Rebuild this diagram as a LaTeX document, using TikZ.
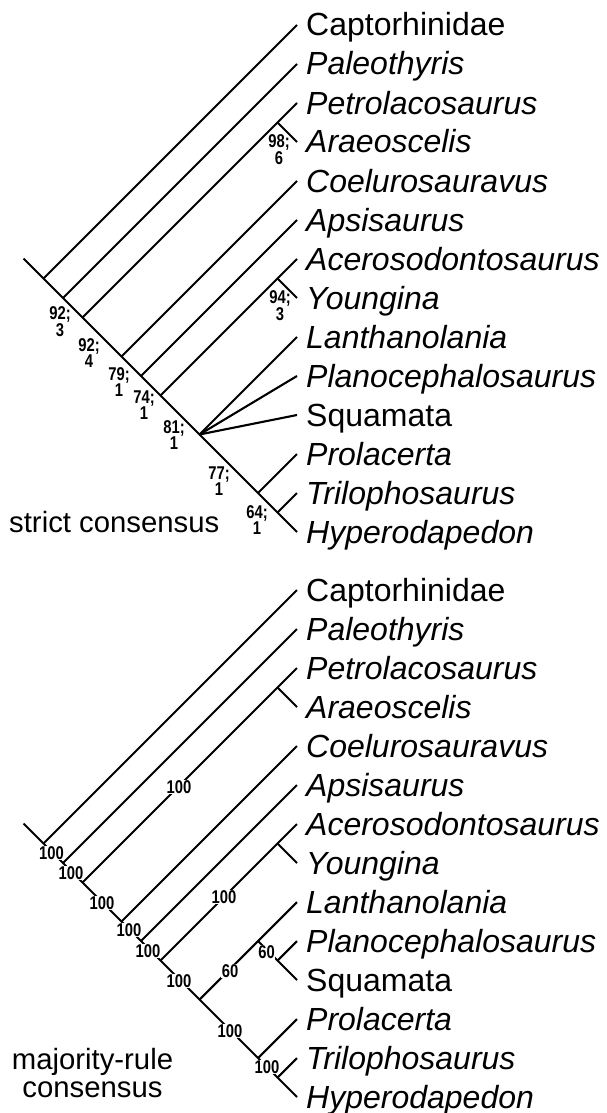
\documentclass[tikz,border=0pt]{standalone}
\usepackage{fontspec}
\setmainfont{Liberation Sans}
\newfontfamily\lblfont{Liberation Sans}[FakeStretch=0.8]
\begin{document}
\begin{tikzpicture}[x=1pt,y=-1pt,
  br/.style={line width=2.1pt},
  taxon/.style={anchor=base west, inner sep=0pt},
  note/.style={anchor=base west, inner sep=0pt, font=\fontsize{29.3}{29.3}\selectfont},
  scoreA/.style={align=center, inner sep=0pt, font=\lblfont\bfseries\fontsize{18.5}{14}\selectfont},
  scoreB/.style={fill=white, inner sep=0.6pt, font=\lblfont\bfseries\fontsize{18.5}{18.5}\selectfont}]
\path[use as bounding box, fill=white] (0,0) rectangle (607,1113);

\foreach \p/\o in {t/0,b/565}{
  \foreach \k/\name/\sh in {1/Captorhinidae/n, 2/Paleothyris/it, 3/Petrolacosaurus/it,
      4/Araeoscelis/it, 5/Coelurosauravus/it, 6/Apsisaurus/it, 7/Acerosodontosaurus/it,
      8/Youngina/it, 9/Lanthanolania/it, 10/Planocephalosaurus/it, 11/Squamata/n,
      12/Prolacerta/it, 13/Trilophosaurus/it, 14/Hyperodapedon/it}{
    \coordinate (\p-tip\k) at (297,{25+39*(\k-1)+\o});
    \node[taxon, font=\fontsize{32}{32}\fontshape{\sh}\selectfont] (\p-lab\k) at (306,{36+39*(\k-1)+\o}) {\name};
  }
  \coordinate (\p-root) at (23.5,{258.5+\o});
  \coordinate (\p-n1) at (43.5,{278.5+\o});
  \coordinate (\p-n2) at (63,{298+\o});
  \coordinate (\p-n3) at (82.5,{317.5+\o});
  \coordinate (\p-n4) at (121.5,{356.5+\o});
  \coordinate (\p-n5) at (141,{376+\o});
  \coordinate (\p-n6) at (160.5,{395.5+\o});
  \coordinate (\p-n7) at (199.5,{434.5+\o});
  \coordinate (\p-n8) at (258,{493+\o});
  \coordinate (\p-n9) at (277.5,{512.5+\o});
  \coordinate (\p-pa) at (277.5,{122.5+\o});
  \coordinate (\p-ay) at (277.5,{278.5+\o});
  \draw[br] (\p-root) -- (\p-tip14);
  \draw[br] (\p-n1) -- (\p-tip1);
  \draw[br] (\p-n2) -- (\p-tip2);
  \draw[br] (\p-n3) -- (\p-tip3);
  \draw[br] (\p-pa) -- (\p-tip4);
  \draw[br] (\p-n4) -- (\p-tip5);
  \draw[br] (\p-n5) -- (\p-tip6);
  \draw[br] (\p-n6) -- (\p-tip7);
  \draw[br] (\p-ay) -- (\p-tip8);
  \draw[br] (\p-n7) -- (\p-tip9);
  \draw[br] (\p-n8) -- (\p-tip12);
  \draw[br] (\p-n9) -- (\p-tip13);
}

% strict consensus polytomy
\draw[br] (t-n7) -- (t-tip10);
\draw[br] (t-n7) -- (t-tip11);

% majority-rule resolution
\coordinate (b-ls) at (258,941);
\coordinate (b-ps) at (277.5,960.5);
\draw[br] (b-ls) -- (b-ps) -- (b-tip11);
\draw[br] (b-ps) -- (b-tip10);

% strict consensus support values
\node[scoreA] (s1) at (60,322) {92;\\3};
\node[scoreA] (s2) at (89,353) {92;\\4};
\node[scoreA] (s3) at (119,382) {79;\\1};
\node[scoreA] (s4) at (144,405) {74;\\1};
\node[scoreA] (s5) at (174,435) {81;\\1};
\node[scoreA] (s6) at (219,481) {77;\\1};
\node[scoreA] (s7) at (257,520) {64;\\1};
\node[scoreA] (s8) at (280,306) {94;\\3};
\node[scoreA] (s9) at (279,150) {98;\\6};

% majority-rule support values
\node[scoreB] (m1) at (51.5,853) {100};
\node[scoreB] (m2) at (71,873) {100};
\node[scoreB] (m3) at (102,903) {100};
\node[scoreB] (m4) at (129,930) {100};
\node[scoreB] (m5) at (148,951) {100};
\node[scoreB] (m6) at (179,981) {100};
\node[scoreB] (m7) at (230,1031) {100};
\node[scoreB] (m8) at (267,1067) {100};
\node[scoreB] (m9) at (179,787) {100};
\node[scoreB] (m10) at (224,897) {100};
\node[scoreB] (m11) at (230,971) {60};
\node[scoreB] (m12) at (266.5,952.5) {60};

% tree titles
\node[note] (title1) at (9,532) {strict consensus};
\node[inner sep=0pt, align=center, font=\fontsize{29.3}{28}\selectfont] (title2) at (92.5,1073) {majority-rule\\consensus};
\end{tikzpicture}
\end{document}
